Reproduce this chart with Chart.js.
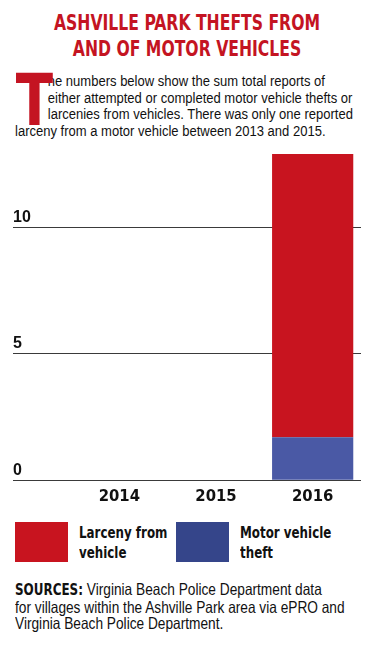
<!DOCTYPE html>
<html>
<head>
<meta charset="utf-8">
<script src="https://cdn.jsdelivr.net/npm/chart.js@4"></script>
<style>
  html, body { margin: 0; padding: 0; background: #fff; }
  body { width: 371px; height: 646px; position: relative; overflow: hidden;
         font-family: "Liberation Sans", Arial, sans-serif; color: #111; }
  h1 { position: absolute; left: -3px; top: 10px; width: 380px; margin: 0; text-align: center; white-space: nowrap;
       font-family: "DejaVu Sans Condensed", "DejaVu Sans", sans-serif;
       font-size: 22px; line-height: 26px; font-weight: bold; color: #c41422;
       transform: scaleX(0.79); transform-origin: 50% 0; }
  .intro { position: absolute; left: 15px; top: 73px; width: 412px; margin: 0;
           font-size: 15.5px; line-height: 16.7px;
           transform: scaleX(0.84); transform-origin: 0 0; }
  .drop { float: left; width: 39px; height: 50px; position: relative; }
  .drop span { position: absolute; left: 1px; top: -8px; font-size: 71px; line-height: 71px;
               font-family: "DejaVu Sans Condensed", "DejaVu Sans", sans-serif;
               font-weight: bold; color: #c41422; transform: scaleX(1.02); transform-origin: 0 0; }
  #chartBox { position: absolute; left: 0; top: 140px; width: 371px; height: 374px; }
  .item { position: absolute; top: 522px; height: 40px; }
  .sw { position: absolute; left: 0; top: 0; width: 53px; height: 40px; }
  .lab { position: absolute; left: 64px; top: 1px; white-space: nowrap; font-weight: bold;
         font-family: "DejaVu Sans Condensed", "DejaVu Sans", sans-serif;
         font-size: 16.5px; line-height: 20px; transform: scaleX(0.8); transform-origin: 0 0; }
  .sources { position: absolute; left: 15px; top: 581px; width: 430px; margin: 0; white-space: nowrap;
             font-size: 16.5px; line-height: 16.7px;
             transform: scaleX(0.83); transform-origin: 0 0; }
  .sources b { font-family: "DejaVu Sans Condensed", "DejaVu Sans", sans-serif; font-size: 16px; }
</style>
</head>
<body>
<h1>ASHVILLE PARK THEFTS FROM<br>AND OF MOTOR VEHICLES</h1>
<p class="intro"><span class="drop"><span>T</span></span>he numbers below show the sum total reports of either attempted or completed motor vehicle thefts or larcenies from vehicles. There was only one reported larceny from a motor vehicle between 2013 and 2015.</p>
<div id="chartBox"><canvas id="theftChart"></canvas></div>
<div id="legend"></div>
<p class="sources"><b>SOURCES:</b> Virginia Beach Police Department data<br>for villages within the Ashville Park area via ePRO and<br>Virginia Beach Police Department.</p>
<script>
// Data
const years = ['2014', '2015', '2016'];
const larceny = [0, 0, 11.2];
const motorTheft = [0, 0, 1.7];
const yTicks = [0, 5, 10];

const seriesNames = ['Larceny from vehicle', 'Motor vehicle theft'];
const barColors = ['#c8141f', '#4a59a5'];
const legendColors = ['#c8141f', '#35458a'];
const legendLeft = [15, 176];

// HTML legend (two-line labels)
const legendEl = document.getElementById('legend');
seriesNames.forEach(function (name, i) {
    const words = name.split(' ');
    const first = words.slice(0, -1).join(' ');
    const last = words[words.length - 1];
    const item = document.createElement('div');
    item.className = 'item';
    item.style.left = legendLeft[i] + 'px';
    item.innerHTML = '<div class="sw" style="background:' + legendColors[i] + '"></div>' +
        '<div class="lab">' + first + '<br>' + last + '</div>';
    legendEl.appendChild(item);
});

const theftData = {
    labels: years,
    datasets: [{
        label: seriesNames[1],
        data: motorTheft,
        backgroundColor: barColors[1],
        barPercentage: 0.84,
        categoryPercentage: 1
    }, {
        label: seriesNames[0],
        data: larceny,
        backgroundColor: barColors[0],
        barPercentage: 0.84,
        categoryPercentage: 1
    }]
};

const theftConfig = {
    type: 'bar',
    data: theftData,
    options: {
        responsive: true,
        maintainAspectRatio: false,
        animation: false,
        layout: { padding: { left: 13, right: 10, top: 14, bottom: 0 } },
        plugins: { legend: { display: false }, tooltip: { enabled: false } },
        scales: {
            x: {
                stacked: true,
                grid: { display: false, drawTicks: false },
                border: { display: false },
                ticks: {
                    color: '#111',
                    padding: 7,
                    font: { family: '"DejaVu Sans Condensed", "DejaVu Sans", sans-serif', size: 16.5, weight: 'bold' }
                }
            },
            y: {
                stacked: true,
                min: 0,
                max: 12.9,
                afterBuildTicks: function (scale) {
                    scale.ticks = yTicks.map(function (v) { return { value: v }; });
                },
                afterFit: function (scale) { scale.width = 58; },
                border: { display: false },
                grid: { color: '#3a3a3a', lineWidth: 1, tickLength: 58, tickColor: '#3a3a3a' },
                ticks: {
                    color: '#111',
                    padding: 0,
                    crossAlign: 'far',
                    labelOffset: -10,
                    font: { family: '"Liberation Sans", Arial, sans-serif', size: 16, weight: 'bold' }
                }
            }
        }
    }
};

const theftChart = new Chart(document.getElementById('theftChart'), theftConfig);
</script>
</body>
</html>
